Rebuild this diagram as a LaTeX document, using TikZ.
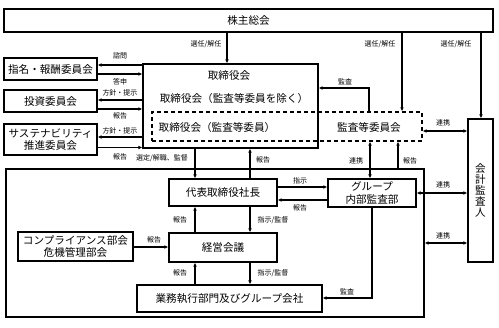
\documentclass[tikz,border=0pt]{standalone}
\usepackage{fontspec}
\setmainfont{Noto Sans CJK JP}
\usetikzlibrary{arrows.meta}
\begin{document}
\begin{tikzpicture}[x=1pt,y=-1pt,
  box/.style={draw, line width=1.1pt, inner sep=0pt, align=center, font=\fontsize{10.6}{12.5}\selectfont},
  dbox/.style={draw, dash pattern=on 4pt off 3pt, line width=1.2pt, inner sep=0pt},
  lbl/.style={font=\fontsize{7}{8}\selectfont, inner sep=0pt},
  txt/.style={font=\fontsize{10.6}{12.5}\selectfont, inner sep=0pt},
  arr/.style={line width=1.1pt, -{Latex[length=4pt,width=3.6pt]}},
  darr/.style={line width=1.1pt, {Latex[length=4pt,width=3.6pt]}-{Latex[length=4pt,width=3.6pt]}},
]
\useasboundingbox (0,0) rectangle (499,328);
% outer management frame
\node[box, minimum width=418pt, minimum height=148pt] (outer) at (215,243) {};
% boxes
\node[box, minimum width=489pt, minimum height=23pt] (sh) at (248.5,20.5) {株主総会};
\node[box, minimum width=93pt, minimum height=22pt] (nom) at (50.5,69) {指名・報酬委員会};
\node[box, minimum width=93pt, minimum height=22pt] (inv) at (50.5,101) {投資委員会};
\node[box, minimum width=93pt, minimum height=31pt] (sus) at (50.5,139.5) {サステナビリティ\\推進委員会};
\node[box, minimum width=175pt, minimum height=84pt] (board) at (230.5,106) {};
\node[dbox, minimum width=270pt, minimum height=29pt] (ac) at (287,126.5) {};
\node[box, minimum width=25pt, minimum height=143pt, font=\fontsize{10.6}{11}\selectfont] (aud) at (480.5,190.5) {会\\計\\監\\査\\人};
\node[box, minimum width=108pt, minimum height=27pt] (pres) at (223,192.5) {代表取締役社長};
\node[box, minimum width=88pt, minimum height=28pt] (grp) at (372,193) {グループ\\内部監査部};
\node[box, minimum width=108pt, minimum height=29pt] (mgmt) at (223,247.5) {経営会議};
\node[box, minimum width=185pt, minimum height=27pt] (exec) at (229.5,298.5) {業務執行部門及びグループ会社};
\node[box, minimum width=115pt, minimum height=29pt] (comp) at (75.5,246.5) {コンプライアンス部会\\危機管理部会};
% board texts
\node[txt] (t1) at (229,75) {取締役会};
\node[txt] (t2) at (234,98) {取締役会（監査等委員を除く）};
\node[txt] (t3) at (217,127) {取締役会（監査等委員）};
\node[txt] (t4) at (369,127) {監査等委員会};
% shareholders arrows
\draw[arr] (sh.south -| 227,0) -- (board.north -| 227,0);
\draw[arr] (sh.south -| 402,0) -- (ac.north -| 402,0);
\draw[arr] (sh.south -| 481,0) -- (aud.north -| 481,0);
\node[lbl] (l1) at (206,44) {選任/解任};
\node[lbl] (l2) at (380,44) {選任/解任};
\node[lbl] (l3) at (456,44) {選任/解任};
% committees
\draw[arr] (board.west |- 0,65) -- (nom.east |- 0,65);
\draw[arr] (nom.east |- 0,74) -- (board.west |- 0,74);
\draw[arr] (board.west |- 0,100) -- (inv.east |- 0,100);
\draw[arr] (inv.east |- 0,109) -- (board.west |- 0,109);
\draw[arr] (board.west |- 0,137) -- (sus.east |- 0,137);
\draw[arr] (sus.east |- 0,147.5) -- (board.west |- 0,147.5);
\node[lbl] (l4) at (120,56) {諮問};
\node[lbl] (l5) at (120,82) {答申};
\node[lbl] (l6) at (120,93) {方針・提示};
\node[lbl] (l7) at (120,116) {報告};
\node[lbl] (l8) at (120,131) {方針・提示};
\node[lbl] (l9) at (120,157) {報告};
% audit committee
\draw[arr] (ac.north -| 369,0) |- (board.east |- 0,88);
\node[lbl] (l10) at (345,82) {監査};
\draw[darr] (ac.east |- 0,131) -- (aud.west |- 0,131);
\node[lbl] (l11) at (443,123) {連携};
\draw[darr] (grp.north -| 370,0) -- (ac.south -| 370,0);
\node[lbl] (l12) at (356,161) {連携};
\draw[arr] (outer.north -| 398,0) -- (ac.south -| 398,0);
\node[lbl] (l13) at (410,161) {報告};
\draw[darr] (grp.east |- 0,193) -- (aud.west |- 0,193);
\node[lbl] (l14) at (443,185) {連携};
\draw[darr] (outer.east |- 0,243) -- (aud.west |- 0,243);
\node[lbl] (l15) at (443,236) {連携};
% board - president
\draw[arr] (board.south -| 195,0) -- (pres.north -| 195,0);
\node[lbl] (l16) at (162,158) {選定/解職、監督};
\draw[arr] (pres.north -| 250,0) -- (board.south -| 250,0);
\node[lbl] (l17) at (263,160) {報告};
% president - group audit
\draw[arr] (pres.east |- 0,187) -- (grp.west |- 0,187);
\node[lbl] (l18) at (300,181) {指示};
\draw[arr] (grp.west |- 0,200) -- (pres.east |- 0,200);
\node[lbl] (l19) at (300,208) {報告};
% president - mgmt
\draw[arr] (pres.south -| 250,0) -- (mgmt.north -| 250,0);
\node[lbl] (l20) at (273,220) {指示/監督};
\draw[arr] (mgmt.north -| 195,0) -- (pres.south -| 195,0);
\node[lbl] (l21) at (180,220) {報告};
% mgmt - exec
\draw[arr] (mgmt.south -| 250,0) -- (exec.north -| 250,0);
\node[lbl] (l22) at (273,273) {指示/監督};
\draw[arr] (exec.north -| 195,0) -- (mgmt.south -| 195,0);
\node[lbl] (l23) at (180,273) {報告};
% compliance
\draw[arr] (comp.east |- 0,247) -- (mgmt.west |- 0,247);
\node[lbl] (l24) at (154,240) {報告};
% group audit -> exec
\draw[arr] (grp.south -| 372,0) |- (exec.east |- 0,298);
\node[lbl] (l25) at (347,292) {監査};
\end{tikzpicture}
\end{document}
